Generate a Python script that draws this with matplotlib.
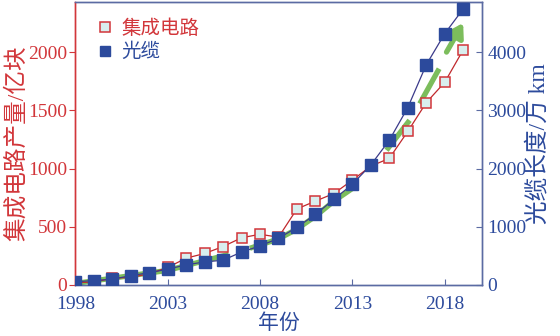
import matplotlib
matplotlib.use("Agg")
import matplotlib.pyplot as plt
from matplotlib.lines import Line2D

plt.rcParams['font.family'] = ['Liberation Serif', 'Noto Sans CJK SC']

# data
years = list(range(1998, 2020))
ic_output = [22, 23, 59, 64, 96, 150, 230, 270, 330, 405, 435, 410,
             653, 720, 785, 900, 1020, 1087, 1318, 1565, 1740, 2018]      # 亿块
cable_len = [55, 75, 97, 160, 210, 270, 345, 395, 425, 565, 670, 800,
             990, 1210, 1470, 1730, 2060, 2485, 3045, 3780, 4315, 4740]   # 万 km
xticks = [1998, 2003, 2008, 2013, 2018]
left_ticks = [0, 500, 1000, 1500, 2000]
right_ticks = [0, 1000, 2000, 3000, 4000]

# green trend arrow (left-axis units), drawn as dash pieces
trend_pieces = [
    ([1998.1, 2003, 2006.3], [15, 125, 262]),
    ([2007.45, 2009, 2010, 2011, 2012, 2013.2], [315, 395, 480, 590, 720, 850]),
    ([2014.85, 2016.1], [1157, 1414]),
    ([2016.65, 2017.7], [1557, 1857]),
]
trend_head = ([2018.1, 2019], [2000, 2250])

red = '#d2363a'
red_line = '#c0282c'
blue = '#2c4a9c'
blue_line = '#3b3a8a'
axis_blue = '#5b6ba3'
green = '#7cbd5c'

fig = plt.figure(figsize=(5.6, 3.36), dpi=100)
ax1 = fig.add_axes([0.1346, 0.152, 0.7254, 0.842])
ax2 = ax1.twinx()

for xs, ys in trend_pieces:
    ax1.plot(xs, ys, color=green, lw=3.8, solid_capstyle='butt', zorder=1)
ax1.annotate('', xy=(trend_head[0][1], trend_head[1][1]),
             xytext=(trend_head[0][0], trend_head[1][0]),
             arrowprops=dict(arrowstyle='-|>,head_length=0.8,head_width=0.5',
                             lw=3.8, color=green, shrinkA=0, shrinkB=0), zorder=1)

ax1.plot(years, ic_output, '-s', color=red_line, lw=0.9, ms=7.5,
         mfc='#d9eeee', mec=red, mew=1.1, zorder=3)
ax2.plot(years, cable_len, '-s', color=blue_line, lw=0.9, ms=8.5,
         mfc=blue, mec=blue, zorder=3)

ax1.set_xlim(1998, 2020)
ax1.set_ylim(0, 2430)
ax2.set_ylim(0, 4860)
ax1.set_xticks(xticks)
ax1.set_yticks(left_ticks)
ax2.set_yticks(right_ticks)

ax1.tick_params(axis='x', direction='in', colors=axis_blue, labelcolor=blue,
                labelsize=14, length=4, pad=8)
ax1.tick_params(axis='y', direction='out', colors=red, labelcolor=red,
                labelsize=14, length=4, pad=2)
ax2.tick_params(axis='y', direction='in', colors=axis_blue, labelcolor=blue,
                labelsize=14, length=4, pad=4)

for a in (ax1, ax2):
    a.spines['left'].set_color(red)
    a.spines['right'].set_color(axis_blue)
    a.spines['top'].set_color(axis_blue)
    a.spines['bottom'].set_color(axis_blue)
    for s in a.spines.values():
        s.set_linewidth(1.0)

ax1.set_xlabel('年份', fontsize=15, color=blue, labelpad=1, fontweight='light')
ax1.set_ylabel('集成电路产量/亿块', fontsize=17, color=red, labelpad=0,
               fontweight='light')
ax2.set_ylabel('光缆长度/万 km', fontsize=17, color=blue, labelpad=0,
               fontweight='light')

handles = [Line2D([], [], ls='none', marker='s', ms=7, mfc='#d9eeee', mec=red, mew=1.1),
           Line2D([], [], ls='none', marker='s', ms=7.5, mfc=blue, mec=blue)]
leg = ax1.legend(handles, ['集成电路', '光缆'], loc='upper left',
                 bbox_to_anchor=(0.01, 1.0), frameon=False,
                 prop={'size': 14, 'weight': 'light'},
                 handlelength=0.8, handletextpad=0.45, labelspacing=0.25)
leg.get_texts()[0].set_color(red)
leg.get_texts()[1].set_color(blue)

fig.savefig('out.png', dpi=100)
